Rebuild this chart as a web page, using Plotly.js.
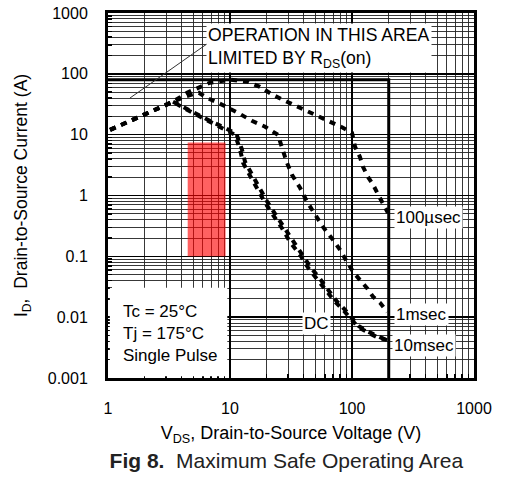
<!DOCTYPE html>
<html>
<head>
<meta charset="utf-8">
<script src="https://cdn.plot.ly/plotly-3.0.1.min.js"></script>
<style>html,body{margin:0;padding:0;background:#fff;}#chart{width:506px;height:480px;}</style>
</head>
<body>
<div id="chart"></div>
<script>
// ---- data (V in volts, I in amperes) ----
const xTickVals = [1, 10, 100, 1000];
const xTickText = ['1', '10', '100', '1000'];
const yTickVals = [0.001, 0.01, 0.1, 1, 10, 100, 1000];
const yTickText = ['0.001', '0.01', '0.1', '1', '10', '100', '1000'];

const us100V = [1.04, 1.6, 2.09, 2.67, 3.41, 4.44, 5.47, 6.85, 10, 14.0, 17.6, 22.5, 29.3, 37.5, 47, 57.8, 69.8, 84.2, 100, 106, 116, 123, 135, 149, 164, 179, 197];
const us100I = [12, 17.6, 22.9, 28.8, 34.8, 48.9, 59, 71.4, 80, 74, 61, 45, 34.8, 27.7, 22.9, 19, 15.7, 13.0, 10.7, 6.3, 4.33, 2.96, 2.03, 1.50, 1.03, 0.76, 0.52];

const ms1V = [1.04, 1.6, 2.09, 2.67, 3.41, 4.4, 5.56, 6.5, 7.97, 11.6, 15.1, 19.4, 24.7, 26.7, 29.3, 32.2, 37.5, 42.8, 49.7, 57.8, 69.8, 79.8, 91, 102, 116, 133, 149, 170, 194];
const ms1I = [12, 17.6, 22.9, 28.8, 34.8, 43, 48.9, 40, 33.5, 22.9, 16.9, 13.5, 9.95, 6.1, 3.45, 2.19, 1.34, 0.79, 0.48, 0.305, 0.187, 0.128, 0.081, 0.056, 0.041, 0.030, 0.0216, 0.0172, 0.0122];

const ms10V = [3.41, 4.2, 5.05, 6.1, 7.2, 8.9, 11.3, 12.5, 13.3, 15.2, 17.3, 20.2, 23.4, 27.8, 32.3, 38.9, 45.3, 54.5, 64.5, 74.5, 86.5, 98.5, 114, 135, 162, 196];
const ms10I = [34.8, 27.9, 23.2, 19.3, 16.0, 13.3, 10.2, 5.8, 3.55, 2.18, 1.33, 0.79, 0.50, 0.30, 0.18, 0.11, 0.068, 0.043, 0.027, 0.0185, 0.0136, 0.0099, 0.0071, 0.0058, 0.0048, 0.0041];

const dcV = [1.04, 1.6, 2.09, 2.67, 3.41, 4.12, 4.97, 6.01, 7.12, 8.76, 11.0, 12.1, 12.8, 14.6, 16.6, 19.4, 22.5, 26.7, 31.0, 37.5, 43.6, 52.6, 62.4, 72.6, 84.4, 96.4, 112, 133, 160, 194];
const dcI = [12, 17.6, 22.9, 28.8, 34.8, 27.7, 22.9, 19.0, 15.7, 13.0, 9.95, 5.65, 3.45, 2.11, 1.29, 0.76, 0.48, 0.29, 0.173, 0.106, 0.065, 0.041, 0.026, 0.0179, 0.0132, 0.0097, 0.0069, 0.0057, 0.0047, 0.0042];

const limitV = [1, 200, 200];
const limitI = [80, 80, 0.001];

const rectV = [4.5, 9.2, 9.2, 4.5, 4.5];
const rectI = [0.1, 0.1, 7.4, 7.4, 0.1];

// ---- drawing ----
const FONT = 'Liberation Sans, Arial, Helvetica, sans-serif';
const dashed = {color: '#000', width: 4, dash: '6px,6px'};

const traces = [
  {x: rectV, y: rectI, type: 'scatter', mode: 'lines', fill: 'toself',
   fillcolor: 'rgba(255,0,0,0.62)', line: {width: 0}, hoverinfo: 'skip'},
  {x: limitV, y: limitI, type: 'scatter', mode: 'lines',
   line: {color: '#000', width: 3}, hoverinfo: 'skip'},
  {x: us100V, y: us100I, type: 'scatter', mode: 'lines', line: dashed, name: '100µsec'},
  {x: ms1V, y: ms1I, type: 'scatter', mode: 'lines', line: dashed, name: '1msec'},
  {x: ms10V, y: ms10I, type: 'scatter', mode: 'lines', line: dashed, name: '10msec'},
  {x: dcV, y: dcI, type: 'scatter', mode: 'lines', line: dashed, name: 'DC'}
];

const axisCommon = {
  type: 'log',
  showline: true, mirror: true, linecolor: '#000', linewidth: 3,
  showgrid: true, gridcolor: '#000', gridwidth: 1.5,
  ticks: 'inside', ticklen: 10, tickwidth: 1.5, tickcolor: '#000',
  tickfont: {family: FONT, size: 16, color: '#000'},
  minor: {dtick: 'D1', showgrid: true, gridcolor: '#222', gridwidth: 0.9,
          ticks: 'inside', ticklen: 4, tickcolor: '#000'},
  zeroline: false, fixedrange: true
};

const lbl = (text, x, y, xa, extra) => Object.assign({
  text: text, xref: 'paper', yref: 'paper', x: x, y: y,
  xanchor: xa, yanchor: 'middle', showarrow: false,
  font: {family: FONT, size: 17, color: '#000'},
  bgcolor: '#fff', borderpad: 1
}, extra || {});

const layout = {
  width: 506, height: 480,
  margin: {l: 108, r: 32, t: 13, b: 102},
  paper_bgcolor: '#fff', plot_bgcolor: '#fff',
  showlegend: false,
  font: {family: FONT, color: '#000'},
  title: {text: '<b>Fig 8.</b>&nbsp;&nbsp;Maximum Safe Operating Area',
          font: {family: FONT, size: 21, color: '#222'},
          xref: 'container', yref: 'container', x: 0.566, y: 0.04,
          xanchor: 'center', yanchor: 'middle'},
  xaxis: Object.assign({}, axisCommon, {
    range: [0, 3], tickvals: xTickVals, ticktext: xTickText,
    ticklabelstandoff: 14,
    title: {text: 'V<sub>DS</sub>, Drain-to-Source Voltage (V)',
            font: {family: FONT, size: 18, color: '#000'}, standoff: 11}
  }),
  yaxis: Object.assign({}, axisCommon, {
    range: [-3, 3], tickvals: yTickVals, ticktext: yTickText,
    ticklabelstandoff: 14,
    title: {text: 'I<sub>D</sub>,&nbsp; Drain-to-Source Current (A)',
            font: {family: FONT, size: 17.5, color: '#000'}, standoff: 16}
  }),
  shapes: [
    {type: 'rect', xref: 'paper', yref: 'paper', x0: 0.005, x1: 0.326, y0: 0.005, y1: 0.247,
     fillcolor: '#fff', line: {width: 0}, layer: 'above'},
    {type: 'line', xref: 'paper', yref: 'paper', x0: 0.060, y0: 0.767, x1: 0.270, y1: 0.915,
     line: {color: '#333', width: 1}, layer: 'above'}
  ],
  annotations: [
    lbl('OPERATION IN THIS AREA<br>LIMITED BY R<sub>DS</sub>(on)', 0.268, 0.905, 'left',
        {align: 'left', font: {family: FONT, size: 17.6, color: '#000'}}),
    lbl('Tc = 25°C<br>Tj = 175°C<br>Single Pulse', 0.036, 0.123, 'left', {align: 'left', bgcolor: 'rgba(0,0,0,0)'}),
    lbl('100µsec', 0.782, 0.441, 'left'),
    lbl('1msec', 0.782, 0.173, 'left'),
    lbl('10msec', 0.777, 0.090, 'left'),
    lbl('DC', 0.571, 0.148, 'center')
  ]
};

Plotly.newPlot('chart', traces, layout, {displayModeBar: false, staticPlot: true});
</script>
</body>
</html>
